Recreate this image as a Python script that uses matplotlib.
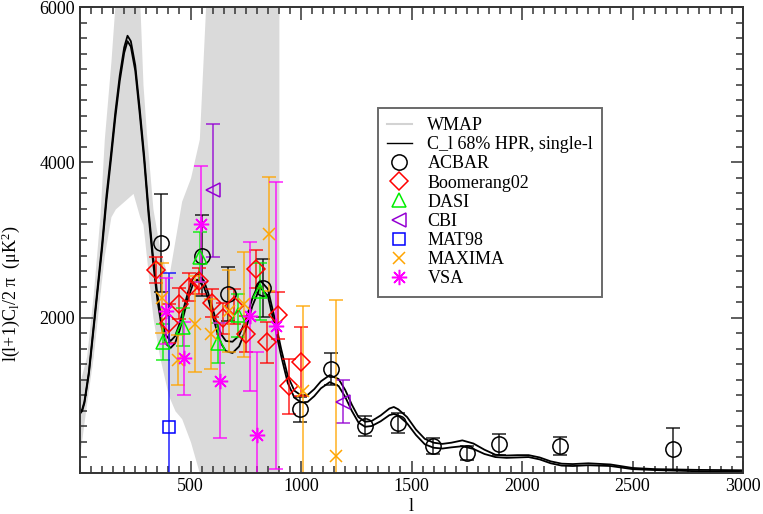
import matplotlib
matplotlib.use("Agg")
import matplotlib.pyplot as plt
from matplotlib.lines import Line2D
from matplotlib.ticker import MultipleLocator

plt.rcParams["font.family"] = ["Liberation Serif", "DejaVu Serif"]
plt.rcParams["mathtext.fontset"] = "custom"
plt.rcParams["mathtext.rm"] = "Liberation Serif"
plt.rcParams["mathtext.it"] = "Liberation Serif:italic"

# WMAP scatter, drawn as the envelope of the noisy grey spikes
wmap_l = [2, 30, 60, 90, 110, 140, 160, 200, 240, 270, 285, 300, 330, 360, 400,
          430, 460, 500, 540, 570, 600, 700, 800, 880, 900]
wmap_hi = [1200, 1500, 2300, 3300, 4300, 5300, 6100, 6100, 6100, 6100, 5000, 4400, 3400,
           2900, 2500, 3000, 3500, 3800, 4300, 6100, 6100, 6100, 6100, 6100, 6100]
wmap_lo = [300, 900, 1500, 2300, 2800, 3300, 3400, 3500, 3600, 3300, 3200, 2800, 2000,
           1500, 1000, 800, 700, 400, 0, 0, 0, 0, 0, 0, 0]

# 68% HPR band of C_l (upper and lower curves)
cl_l = [2, 10, 20, 40, 60, 80, 100, 120, 140, 160, 180, 200, 215, 230, 250, 270, 290,
        310, 330, 350, 370, 390, 410, 430, 450, 470, 490, 510, 530, 560, 580, 600, 620,
        640, 660, 690, 720, 750, 780, 815, 850, 880, 910, 940, 970, 1000, 1030, 1060,
        1090, 1130, 1170, 1200, 1230, 1260, 1290, 1320, 1360, 1400, 1420, 1440, 1480,
        1520, 1560, 1600, 1640, 1680, 1730, 1780, 1830, 1880, 1930, 1980, 2030, 2080,
        2130, 2180, 2230, 2300, 2400, 2500, 2600, 2700, 2800, 2900, 3000]
cl_hi = [790, 820, 920, 1300, 1850, 2400, 2950, 3580, 4100, 4650, 5120, 5480, 5630, 5560,
         5250, 4700, 4100, 3400, 2800, 2300, 1960, 1770, 1700, 1760, 1920, 2130, 2340,
         2500, 2570, 2480, 2320, 2120, 1920, 1780, 1700, 1690, 1770, 1970, 2250, 2480,
         2370, 2000, 1600, 1250, 1060, 1000, 1005, 1080, 1180, 1260, 1210, 1070, 880,
         720, 660, 670, 740, 830, 850, 820, 720, 560, 440, 390, 375, 390, 420, 380, 300,
         235, 225, 230, 230, 200, 150, 120, 115, 125, 110, 65, 50, 45, 40, 38, 35]
cl_lo = [770, 800, 900, 1270, 1810, 2350, 2890, 3510, 4030, 4580, 5050, 5410, 5560, 5490,
         5180, 4630, 4030, 3330, 2730, 2230, 1870, 1660, 1610, 1670, 1830, 2040, 2260,
         2420, 2490, 2400, 2240, 2030, 1820, 1660, 1570, 1545, 1630, 1850, 2150, 2390,
         2280, 1910, 1510, 1160, 970, 910, 915, 990, 1090, 1170, 1120, 980, 800, 650,
         595, 605, 665, 745, 760, 740, 640, 490, 370, 325, 315, 330, 345, 310, 245, 205,
         195, 200, 205, 175, 125, 95, 90, 100, 90, 50, 38, 30, 22, 18, 13]

# experiments: multipole, band power, 1-sigma error
acbar_l = [365, 551, 668, 830, 995, 1134, 1290, 1440, 1599, 1753, 1898, 2172, 2685]
acbar_v = [2960, 2796, 2302, 2380, 821, 1340, 606, 640, 348, 254, 370, 348, 309]
acbar_err = [630, 520, 350, 370, 160, 210, 130, 130, 100, 90, 135, 115, 275]

boom_l = [345, 403, 448, 492, 540, 598, 646, 698, 750, 797, 847, 897, 945, 999]
boom_v = [2610, 1930, 2180, 2400, 2470, 2190, 1995, 2145, 1790, 2625, 1682, 2030, 1115, 1434]
boom_err = [170, 250, 200, 180, 170, 180, 200, 230, 230, 240, 260, 300, 350, 440]

dasi_l = [374, 465, 545, 625, 716, 816]
dasi_v = [1690, 1880, 2780, 1670, 2030, 2340]
dasi_err = [230, 250, 320, 260, 280, 370]

cbi_l = [603, 1192]
cbi_v = [3638, 919]
cbi_err = [860, 275]

mat_l = [404]
mat_v = [589]
mat_err = [1990]

maxima_l = [370, 445, 520, 593, 672, 742, 857, 1008, 1158]
maxima_v = [2259, 1456, 1920, 1795, 2090, 2170, 3076, 1061, 219]
maxima_err = [450, 320, 620, 450, 530, 670, 730, 1090, 2010]

vsa_l = [387, 470, 548, 633, 768, 802, 886]
vsa_v = [2085, 1475, 3209, 1190, 2020, 490, 1896]
vsa_err = [430, 470, 750, 740, 960, 1070, 1850]

fig = plt.figure(figsize=(7.63, 5.14), dpi=100)
ax = fig.add_axes([80 / 763, 1 - 473 / 514, 663 / 763, 466 / 514])

ax.fill_between(wmap_l, wmap_lo, wmap_hi, color="#dadada", lw=0, zorder=1)
ax.plot(cl_l, cl_hi, color="black", lw=1.3, zorder=2)
ax.plot(cl_l, cl_lo, color="black", lw=1.3, zorder=2)

experiments = [
    ("ACBAR", acbar_l, acbar_v, acbar_err, "o", "black", 11),
    ("Boomerang02", boom_l, boom_v, boom_err, "D", "#ff0000", 9.5),
    ("DASI", dasi_l, dasi_v, dasi_err, "^", "#00ee00", 10),
    ("CBI", cbi_l, cbi_v, cbi_err, "<", "#9400d3", 10),
    ("MAT98", mat_l, mat_v, mat_err, "s", "#0000ff", 8.5),
    ("MAXIMA", maxima_l, maxima_v, maxima_err, "x", "#ffa500", 8),
    ("VSA", vsa_l, vsa_v, vsa_err, (8, 2, 0), "#ff00ff", 11),
]

handles = [Line2D([], [], color="#d3d3d3", lw=1.5),
           Line2D([], [], color="black", lw=1.0)]
labels = ["WMAP", "C_l 68% HPR, single-l"]
for name, l, v, err, mk, col, ms in experiments:
    ax.errorbar(l, v, yerr=err, fmt="none", ecolor=col, elinewidth=1.2,
                capsize=5, capthick=1.2, alpha=0.8, zorder=3)
    ax.plot(l, v, ls="none", marker=mk, ms=ms, mfc="none", mec=col, mew=1.1, zorder=4)
    handles.append(Line2D([], [], ls="none", marker=mk, ms=ms, mfc="none", mec=col, mew=1.1))
    labels.append(name)

ax.set_xlim(0, 3000)
ax.set_ylim(0, 6000)
ax.set_xticks([500, 1000, 1500, 2000, 2500, 3000])
ax.set_yticks([2000, 4000, 6000])
ax.xaxis.set_minor_locator(MultipleLocator(50))
ax.yaxis.set_minor_locator(MultipleLocator(200))
ax.tick_params(which="both", direction="in", top=True, right=True, labelsize=13,
               width=1.1, color="#333333")
ax.tick_params(which="major", length=9)
ax.tick_params(which="minor", length=5)
for sp in ax.spines.values():
    sp.set_linewidth(1.4)
    sp.set_color("#333333")
    sp.set_zorder(5)

ax.set_xlabel("l", fontsize=13, labelpad=2)
ax.set_ylabel(r"l(l+1)C$_\mathrm{l}$/2 π  (μK$^\mathrm{2}$)", fontsize=13)
ax.yaxis.set_label_coords(-0.088, 0.384)

leg = ax.legend(handles, labels, loc="upper left", bbox_to_anchor=(0.449, 0.783),
                borderaxespad=0, fontsize=13, frameon=True, fancybox=False,
                handlelength=1.4, handletextpad=0.85, labelspacing=0.12, borderpad=0.5)
leg.get_frame().set_edgecolor("#444444")
leg.get_frame().set_linewidth(1.4)
leg.set_zorder(6)

fig.savefig("out.png", dpi=100)
